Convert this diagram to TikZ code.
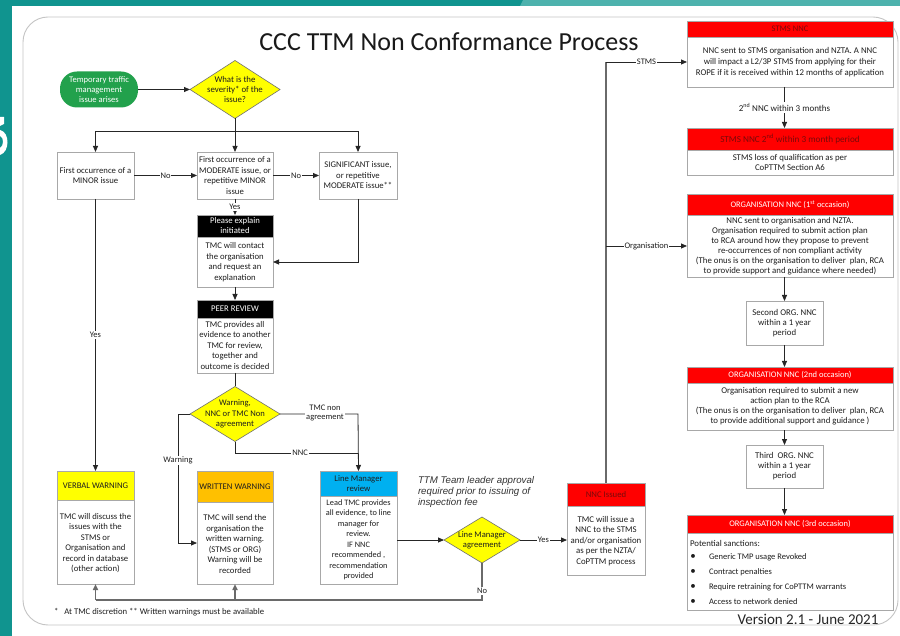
\documentclass[tikz,border=0pt]{standalone}
\usepackage{fontspec}
\setmainfont{Carlito}
\newfontfamily\arialfont{Liberation Sans}
\usetikzlibrary{shapes.geometric,arrows.meta,calc}
\definecolor{tealA}{HTML}{10948F}
\definecolor{tealB}{HTML}{4DB2AD}
\definecolor{framec}{HTML}{C4C4C4}
\definecolor{boxline}{HTML}{A8A8A8}
\definecolor{txt}{HTML}{1E1E1E}
\definecolor{hred}{HTML}{FF0000}
\definecolor{dred}{HTML}{7A0A0A}
\definecolor{yel}{HTML}{FFFF00}
\definecolor{orng}{HTML}{FFC000}
\definecolor{blu}{HTML}{00B0F0}
\definecolor{grn}{HTML}{22A14C}
\definecolor{conn}{HTML}{262626}
\definecolor{gconn}{HTML}{6A6A6A}
\definecolor{dgray}{HTML}{707070}
\begin{document}
\begin{tikzpicture}[x=1pt,y=-1pt,
  every node/.style={inner sep=0pt, outer sep=0pt},
  box/.style={draw=boxline, fill=white, line width=0.6pt},
  hdr/.style={anchor=north west, fill=#1, draw=boxline, line width=0.6pt, align=center},
  bt/.style={font=\fontsize{8.7}{10.5}\selectfont, text=txt, align=center},
  rt/.style={font=\fontsize{8.8}{10}\selectfont, text=txt, align=center},
  ht/.style={font=\fontsize{8.7}{10}\selectfont},
  rht/.style={font=\fontsize{8.5}{10}\selectfont},
  dia/.style={diamond, draw=dgray, fill=yel, line width=0.6pt},
  lab/.style={fill=white, font=\fontsize{8.5}{9.5}\selectfont, text=txt, inner sep=1pt, align=center},
  arr/.style={draw=conn, line width=0.8pt, -{Triangle[length=6pt,width=5pt]}},
  ln/.style={draw=conn, line width=0.8pt},
  garr/.style={draw=gconn, line width=1.6pt, -{Triangle[length=6pt,width=5pt]}},
  gln/.style={draw=gconn, line width=1.6pt},
]
\useasboundingbox (0,0) rectangle (900,636);
% slide background
\fill[tealA] (0,0) rectangle (900,636);
\fill[tealB] (523,0) -- (900,0) -- (900,6) -- (520,6) -- cycle;
\fill[white] (12,6) rectangle (900,636);
% fragment of a large white letter on the slide edge
\fill[white] (0,117) -- (4,117) -- (4,124) -- (0,126) -- cycle;
\fill[white] (0,130) .. controls (10,132) and (10,152) .. (0,155) -- (0,148) .. controls (4,146) and (4,137) .. (0,136) -- cycle;
\draw[framec, line width=0.9pt, rounded corners=25pt] (23,17) rectangle (898,625);

% title
\node[font=\fontsize{26}{30}\selectfont, text=black!90] (title) at (449,42) {CCC TTM Non Conformance Process};

% start and first decision
\node[fill=grn, rounded corners=17pt, minimum width=78pt, minimum height=36pt, align=center, text=white, font=\fontsize{8.6}{10}\selectfont] (start) at (99,89.5) {Temporary traffic\\management\\issue arises};
\node[dia, minimum width=90pt, minimum height=58pt] (dia1) at (235,89.5) {};
\node[bt, font=\fontsize{8.8}{10.3}\selectfont] (dia1t) at (235,89.5) {What is the\\severity* of the\\issue?};

% first row
\node[box, bt, minimum width=77pt, minimum height=47pt] (minor) at (95.5,175.5) {First occurrence of a\\MINOR issue};
\node[box, bt, minimum width=76pt, minimum height=47pt] (moderate) at (235,175.5) {First occurrence of a\\MODERATE issue, or\\repetitive MINOR\\issue};
\node[box, bt, minimum width=78pt, minimum height=47pt] (signif) at (358,175.5) {SIGNIFICANT issue,\\or repetitive\\MODERATE issue**};

% please explain
\node[box, anchor=north west, minimum width=76pt, minimum height=72pt] (explain) at (197,215) {};
\node[hdr=black, minimum width=76pt, minimum height=22pt, text=white, ht] (explainh) at (197,215) {Please explain\\initiated};
\node[bt] (explainb) at (235,262) {TMC will contact\\the organisation\\and request an\\explanation};

% peer review
\node[box, anchor=north west, minimum width=76pt, minimum height=73pt] (peer) at (197,300) {};
\node[hdr=black, minimum width=76pt, minimum height=18pt, text=white, ht] (peerh) at (197,300) {PEER REVIEW};
\node[bt] (peerb) at (235,345.5) {TMC provides all\\evidence to another\\TMC for review,\\together and\\outcome is decided};

% second decision
\node[dia, minimum width=90pt, minimum height=55pt] (dia2) at (235,414) {};
\node[bt, font=\fontsize{8.6}{10.3}\selectfont] (dia2t) at (235,414) {Warning,\\NNC or TMC Non\\agreement};

% verbal warning
\node[box, anchor=north west, minimum width=77pt, minimum height=113pt] (verbal) at (57,471) {};
\node[hdr=yel, minimum width=77pt, minimum height=29pt, text=txt, ht] (verbalh) at (57,471) {VERBAL WARNING};
\node[bt] (verbalb) at (95.5,543) {TMC will discuss the\\issues with the\\STMS or\\Organisation and\\record in database\\(other action)};

% written warning
\node[box, anchor=north west, minimum width=76pt, minimum height=113pt] (written) at (197,471) {};
\node[hdr=orng, minimum width=76pt, minimum height=31pt, text=txt, ht] (writtenh) at (197,471) {WRITTEN WARNING};
\node[bt] (writtenb) at (235,544) {TMC will send the\\organisation the\\written warning.\\(STMS or ORG)\\Warning will be\\recorded};

% line manager review
\node[box, anchor=north west, minimum width=77pt, minimum height=113pt] (linemgr) at (320,471) {};
\node[hdr=blu, minimum width=77pt, minimum height=25pt, text=txt, ht] (linemgrh) at (320,471) {Line Manager\\review};
\node[bt, font=\fontsize{8.3}{10.5}\selectfont] (linemgrb) at (358.5,540) {Lead TMC provides\\all evidence, to line\\manager for\\review.\\IF NNC\\recommended ,\\recommendation\\provided};

% third decision
\node[dia, minimum width=76pt, minimum height=46pt] (dia3) at (482,540) {};
\node[bt, font=\fontsize{8.6}{10.3}\selectfont] (dia3t) at (482,540) {Line Manager\\agreement};

% note
\node[anchor=west, align=left, text=black!80, font=\arialfont\itshape\fontsize{9.7}{11}\selectfont] (note) at (418,492) {TTM Team leader approval\\required prior to issuing of\\inspection fee};

% NNC issued
\node[box, anchor=north west, minimum width=78pt, minimum height=92pt] (nnc) at (567,483) {};
\node[hdr=hred, minimum width=78pt, minimum height=23pt, text=dred, ht] (nnch) at (567,483) {NNC Issued};
\node[bt, font=\fontsize{8.8}{10.5}\selectfont] (nncb) at (606,541) {TMC will issue a\\NNC to the STMS\\and/or organisation\\as per the NZTA/\\CoPTTM process};

% right column
\node[box, anchor=north west, minimum width=206pt, minimum height=66pt] (stms) at (687,21) {};
\node[hdr=hred, minimum width=206pt, minimum height=16pt, text=dred, rht] (stmsh) at (687,21) {STMS NNC};
\node[rt, font=\fontsize{8.8}{11}\selectfont] (stmsb) at (790,62.5) {NNC sent to STMS organisation and NZTA. A NNC\\will impact a L2/3P STMS from applying for their\\ROPE if it is received within 12 months of application};

\node[box, anchor=north west, minimum width=206pt, minimum height=47pt] (stms2) at (687,128) {};
\node[hdr=hred, minimum width=206pt, minimum height=22pt, text=dred, font=\fontsize{9.2}{10}\selectfont] (stms2h) at (687,128) {STMS NNC 2\textsuperscript{nd} within 3 month period};
\node[rt] (stms2b) at (790,162.5) {STMS loss of qualification as per\\CoPTTM Section A6};

\node[box, anchor=north west, minimum width=206pt, minimum height=83pt] (org1) at (687,194) {};
\node[hdr=hred, minimum width=206pt, minimum height=21pt, text=white, rht] (org1h) at (687,194) {ORGANISATION NNC (1\textsuperscript{st} occasion)};
\node[rt] (org1b) at (790,246) {NNC sent to organisation and NZTA.\\Organisation required to submit action plan\\to RCA around how they propose to prevent\\re-occurrences of non compliant activity\\(The onus is on the organisation to deliver\ \ plan, RCA\\to provide support and guidance where needed)};

\node[box, rt, minimum width=77pt, minimum height=44pt] (second) at (784.5,323) {Second ORG. NNC\\within a 1 year\\period};

\node[box, anchor=north west, minimum width=206pt, minimum height=63pt] (org2) at (687,367) {};
\node[hdr=hred, minimum width=206pt, minimum height=16pt, text=white, rht] (org2h) at (687,367) {ORGANISATION NNC (2nd occasion)};
\node[rt] (org2b) at (790,406) {Organisation required to submit a new\\action plan to the RCA\\(The onus is on the organisation to deliver\ \ plan, RCA\\to provide additional support and guidance )};

\node[box, rt, minimum width=77pt, minimum height=43pt] (third) at (784.5,466.5) {Third\ \ ORG. NNC\\within a 1 year\\period};

\node[box, anchor=north west, minimum width=206pt, minimum height=95pt] (org3) at (687,515) {};
\node[hdr=hred, minimum width=206pt, minimum height=18pt, text=white, rht] (org3h) at (687,515) {ORGANISATION NNC (3rd occasion)};
\node[rt, anchor=west] (sanc) at (690,543) {Potential sanctions:};
\node[rt, font=\fontsize{11}{11}\selectfont] (bul1) at (693,557) {\textbullet};
\node[rt, font=\fontsize{11}{11}\selectfont] (bul2) at (693,572) {\textbullet};
\node[rt, font=\fontsize{11}{11}\selectfont] (bul3) at (693,587) {\textbullet};
\node[rt, font=\fontsize{11}{11}\selectfont] (bul4) at (693,602) {\textbullet};
\node[rt, anchor=west, font=\fontsize{8.5}{10}\selectfont] (san1) at (709,557) {Generic TMP usage Revoked};
\node[rt, anchor=west, font=\fontsize{8.5}{10}\selectfont] (san2) at (709,572) {Contract penalties};
\node[rt, anchor=west, font=\fontsize{8.5}{10}\selectfont] (san3) at (709,587) {Require retraining for CoPTTM warrants};
\node[rt, anchor=west, font=\fontsize{8.5}{10}\selectfont] (san4) at (709,602) {Access to network denied};

% footer texts
\node[anchor=west, text=txt, font=\fontsize{8.7}{10}\selectfont] (foot) at (54,612) {*\hspace{6pt}At TMC discretion ** Written warnings must be available};
\node[text=black!85, font=\fontsize{15}{18}\selectfont] (version) at (808,619) {Version 2.1 - June 2021};

% ---------- connectors ----------
\draw[arr] (start.east) -- (dia1.west);
\draw[arr] (dia1.south) -- (moderate.north);
\coordinate (split) at (235,131);
\draw[arr] (split) -| (minor.north);
\draw[arr] (split) -| (signif.north);
\draw[arr] (minor.east) -- node[lab] (lno1) {No} (moderate.west);
\draw[arr] (moderate.east) -- node[lab] (lno2) {No} (signif.west);
\draw[arr] (moderate.south) -- node[lab] (lyes1) {Yes} (explain.north);
\coordinate (c1) at (358,262);
\draw[arr] (signif.south) -- (c1) -- (explain.east |- c1);
\draw[arr] (explain.south) -- (peer.north);
\draw[ln] (peer.south) -- (dia2.north);
\coordinate (c2) at (178,414);
\coordinate (c3) at (178,543);
\draw[arr] (dia2.west) -- (c2) -- node[lab, pos=0.36] (lwarn) {Warning} (c3) -- (written.west |- c3);
\coordinate (c4) at (358,414);
\draw[arr] (dia2.east) -- (c4) -- (linemgr.north);
\node[lab] (ltmc) at (325,413) {TMC non\\agreement};
\coordinate (c5) at (235,453);
\draw[ln] (dia2.south) -- (c5) -- node[lab, pos=0.53] (lnnc) {NNC} (c4 |- c5);
\draw[arr] (minor.south) -- node[lab] (lyes2) {Yes} (verbal.north);
\draw[arr] (linemgr.east |- dia3.west) -- (dia3.west);
\draw[arr] (dia3.east) -- node[lab] (lyes3) {Yes} (nnc.west |- dia3.east);
\coordinate (c6) at (482,600);
\draw[gln] (dia3.south) -- node[lab, pos=0.76] (lno3) {No} (c6) -- (verbal.south |- c6);
\draw[garr] (verbal.south |- c6) -- (verbal.south);
\draw[garr] (written.south |- c6) -- (written.south);
\coordinate (c7) at (606,62);
\coordinate (c8) at (606,246);
\draw[gln] (nnc.north) -- (c7);
\draw[arr] (c7) -- node[lab] (lstms) {STMS} (stms.west |- c7);
\draw[arr] (c8) -- node[lab] (lorg) {Organisation} (org1.west |- c8);
\draw[arr] (stms.south -| second.north) -- node[lab, font=\fontsize{9}{10}\selectfont] (l2nd) {2\textsuperscript{nd} NNC within 3 months} (stms2.north -| second.north);
\draw[arr] (org1.south -| second.north) -- (second.north);
\draw[arr] (second.south) -- (org2.north -| second.north);
\draw[arr] (org2.south -| third.north) -- (third.north);
\draw[arr] (third.south) -- (org3.north -| third.north);
\end{tikzpicture}
\end{document}
